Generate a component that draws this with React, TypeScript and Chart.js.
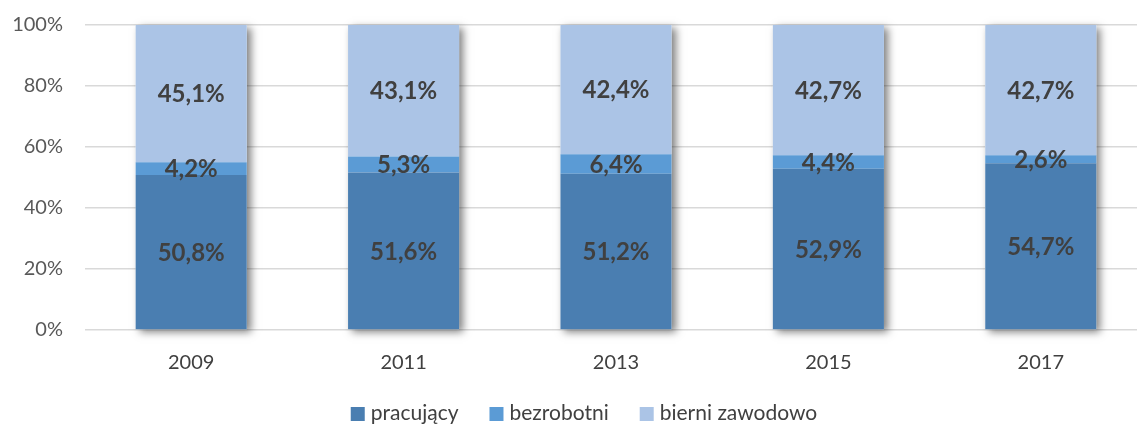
import React, { useEffect, useRef } from "react";
import { Chart, registerables } from "chart.js";

Chart.register(...registerables);

const years = ["2009", "2011", "2013", "2015", "2017"];
const pracujacy = [50.8, 51.6, 51.2, 52.9, 54.7];
const bezrobotni = [4.2, 5.3, 6.4, 4.4, 2.6];
const bierni = [45.1, 43.1, 42.4, 42.7, 42.7];
const seriesNames = ["pracujący", "bezrobotni", "bierni zawodowo"];
const seriesColors = ["#4A7EB1", "#5B9BD5", "#ABC4E6"];
const yTicks = [0, 20, 40, 60, 80, 100];

const FONT = "Lato, 'Open Sans', sans-serif";

const shadowPlugin = {
  id: "stackShadow",
  beforeDatasetsDraw(chart: any) {
    const ctx = chart.ctx;
    const metas = chart.getSortedVisibleDatasetMetas();
    if (!metas.length) return;
    const area = chart.chartArea;
    const n = metas[0].data.length;
    ctx.save();
    for (let i = 0; i < n; i++) {
      let top = Infinity, bottom = -Infinity, left = 0, right = 0;
      metas.forEach((m: any) => {
        const el = m.data[i];
        const p = el.getProps(["x", "y", "base", "width"], true);
        top = Math.min(top, p.y, p.base);
        bottom = Math.max(bottom, p.y, p.base);
        left = p.x - p.width / 2;
        right = p.x + p.width / 2;
      });
      top = Math.max(top, area.top);
      ctx.shadowColor = "rgba(0,0,0,0.5)";
      ctx.shadowBlur = 8;
      ctx.shadowOffsetX = 4;
      ctx.shadowOffsetY = 3;
      ctx.fillStyle = "#ffffff";
      ctx.fillRect(left, top, right - left, bottom - top);
    }
    ctx.restore();
  },
};

const labelPlugin = {
  id: "barLabels",
  afterDatasetsDraw(chart: any) {
    const ctx = chart.ctx;
    const area = chart.chartArea;
    ctx.save();
    ctx.font = `bold 24px ${FONT}`;
    ctx.fillStyle = "#404040";
    ctx.textAlign = "center";
    ctx.textBaseline = "middle";
    chart.getSortedVisibleDatasetMetas().forEach((m: any) => {
      const ds = chart.data.datasets[m.index];
      m.data.forEach((el: any, i: number) => {
        const p = el.getProps(["x", "y", "base"], true);
        const t = Math.max(Math.min(p.y, p.base), area.top);
        const b = Math.max(p.y, p.base);
        const v = ds.data[i] as number;
        const txt = v.toFixed(1).replace(".", ",") + "%";
        ctx.fillText(txt, p.x, (t + b) / 2 + 1);
      });
    });
    ctx.restore();
  },
};

const legendPlugin = {
  id: "customLegend",
  afterDraw(chart: any) {
    const ctx = chart.ctx;
    ctx.save();
    ctx.font = `21px ${FONT}`;
    const box = 14, gapText = 6, gapItem = 31;
    const widths = seriesNames.map((s) => ctx.measureText(s).width);
    const total = widths.reduce((a, w) => a + box + gapText + w, 0) + gapItem * (seriesNames.length - 1);
    let x = 584 - total / 2;
    const cy = 413;
    ctx.textBaseline = "middle";
    ctx.textAlign = "left";
    seriesNames.forEach((s, k) => {
      ctx.fillStyle = seriesColors[k];
      ctx.fillRect(x, cy - 6, box, box);
      ctx.fillStyle = "#404040";
      ctx.fillText(s, x + box + gapText, cy);
      x += box + gapText + widths[k] + gapItem;
    });
    ctx.restore();
  },
};

export default function App() {
  const ref = useRef<HTMLCanvasElement | null>(null);
  useEffect(() => {
    if (!ref.current) return;
    const datasets = [pracujacy, bezrobotni, bierni].map((d, k) => ({
      label: seriesNames[k],
      data: d,
      backgroundColor: seriesColors[k],
      borderWidth: 0,
      barPercentage: 0.523,
      categoryPercentage: 1,
    }));
    const chart = new Chart(ref.current, {
      type: "bar",
      data: { labels: years, datasets },
      plugins: [shadowPlugin, labelPlugin, legendPlugin],
      options: {
        animation: false,
        responsive: false,
        devicePixelRatio: 1,
        layout: { padding: { top: 25, right: 13, bottom: 46, left: 0 } },
        scales: {
          x: {
            stacked: true,
            grid: { display: false, drawTicks: false },
            border: { display: false },
            ticks: { color: "#404040", font: { family: FONT, size: 20 }, padding: 21 },
            afterFit(scale: any) {
              scale.height = 50;
              scale.paddingLeft = 0;
              scale.paddingRight = 0;
            },
          },
          y: {
            stacked: true,
            min: 0,
            max: 100,
            afterBuildTicks(scale: any) {
              scale.ticks = yTicks.map((v) => ({ value: v }));
            },
            afterFit(scale: any) {
              scale.width = 85;
              scale.paddingTop = 0;
              scale.paddingBottom = 0;
            },
            grid: { color: "#D9D9D9", lineWidth: 1.5, drawTicks: false },
            border: { display: false },
            ticks: {
              color: "#595959",
              font: { family: FONT, size: 20 },
              padding: 22,
              callback: (v: any) => v + "%",
            },
          },
        },
        plugins: {
          legend: { display: false },
          tooltip: { enabled: false },
        },
      },
    });
    return () => chart.destroy();
  }, []);
  return (
    <div
      style={{
        position: "fixed",
        left: 0,
        top: 0,
        width: 1137,
        height: 426,
        overflow: "hidden",
        background: "#ffffff",
      }}
    >
      <canvas ref={ref} width={1160} height={426} style={{ width: 1160, height: 426, display: "block" }} />
    </div>
  );
}
